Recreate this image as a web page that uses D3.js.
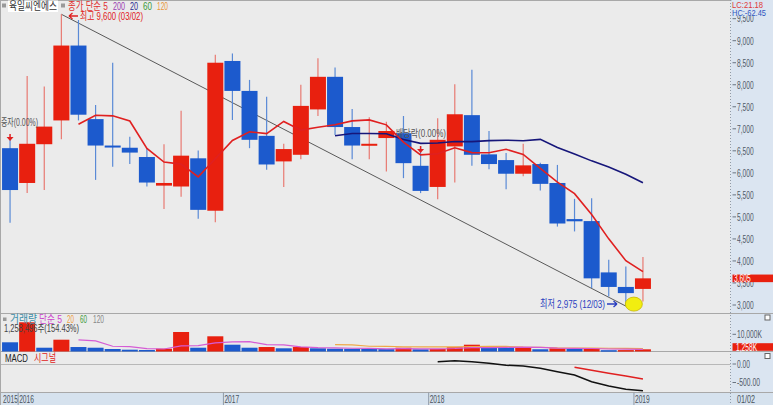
<!DOCTYPE html>
<html><head><meta charset="utf-8">
<script src="https://cdn.jsdelivr.net/npm/d3@7"></script>
<style>html,body{margin:0;padding:0;background:#ebebeb;overflow:hidden}svg{display:block}text{font-family:"Liberation Sans Narrow","Liberation Sans","Noto Sans CJK KR",sans-serif}</style>
</head><body><svg id="c" width="773" height="405"></svg>
<script>
const months = ["2015/12","2016/01","2016/02","2016/03","2016/04","2016/05","2016/06","2016/07","2016/08","2016/09","2016/10","2016/11","2016/12",
"2017/01","2017/02","2017/03","2017/04","2017/05","2017/06","2017/07","2017/08","2017/09","2017/10","2017/11","2017/12",
"2018/01","2018/02","2018/03","2018/04","2018/05","2018/06","2018/07","2018/08","2018/09","2018/10","2018/11","2018/12","2019/01"];
const opens  = [6560,5770,6650,7190,8890,7220,6620,6570,6360,5710,5690,6330,5140,8540,7860,6840,6260,6410,7440,8180,7040,6620,6790,6900,6160,5680,6600,7310,6420,6290,5980,6200,5770,4950,4905,3740,3410,3365];
const highs  = [6750,8200,7960,9600,9470,7540,8500,6820,6560,6650,7410,6510,8680,8710,8110,7730,6660,8000,8600,8390,7450,7260,7160,7290,6600,7240,8010,8340,6950,6450,6660,6230,6180,5410,5425,4025,3875,4090];
const lows   = [4870,5540,5610,6760,7190,5840,6140,6200,5690,5180,5460,4960,4880,7200,6560,6070,5680,6310,7290,6860,6310,6310,6030,5880,5540,5400,5780,6160,6080,5630,5920,5600,4780,4670,3385,3195,2975,3080];
const closes = [5610,6660,7050,8890,7320,6620,6600,6460,5780,5770,6390,5160,8500,7860,6750,6190,6540,7520,8180,7040,6620,6660,6950,6220,5590,6750,7330,6410,6200,5980,6170,5750,4850,4900,3605,3410,3270,3605];
const ma5  = [null,null,null,null,7105,7306,7294,7176,6555,6245,6198,5910,6319,6734,6931,6891,7167,6970,7035,7093,7179,7203,7090,6697,6408,6434,6569,6460,6457,6534,6417,6101,5790,5528,5053,4502,4006,3757];
const ma20 = [null,null,null,null,null,null,null,null,null,null,null,null,null,null,null,null,null,null,null,6843,6894,6894,6889,6755,6669,6676,6712,6710,6731,6741,6730,6760,6577,6429,6272,6133,5970,5774];
const volumes = [5350,17000,2200,6860,2600,2200,1450,1050,870,1630,11340,2200,8840,3950,2200,2600,1860,2600,1860,1630,1550,1450,1400,2200,1280,1450,2440,3950,2200,2100,2300,1300,1860,1450,1860,760,815,1258];
const volMa5  = [null,null,null,null,6802,6172,3062,2832,1634,1440,3268,3418,4976,5592,5706,3958,3890,2642,2224,2110,1900,1818,1578,1646,1576,1556,1754,2264,2264,2428,2598,2370,1952,1802,1754,1446,1349,1229];
const volMa20 = [null,null,null,null,null,null,null,null,null,null,null,null,null,null,null,null,null,null,null,4015,3825,3047,3007,2774,2708,2671,2720,2865,2932,2955,2503,2458,2109,1984,1967,1875,1823,1756];
const macd   = [null,null,null,null,null,null,null,null,null,null,null,null,null,null,null,null,null,null,null,null,null,null,null,null,null,62,89,62,19,-35,-54,-116,-208,-297,-478,-595,-684,-722];
const signal = [null,null,null,null,null,null,null,null,null,null,null,null,null,null,null,null,null,null,null,null,null,null,null,null,null,null,null,null,null,null,null,null,null,-89,-168,-247,-326,-405];
const priceTicks = [3000,3500,4000,4500,5000,5500,6000,6500,7000,7500,8000,8500,9000,9500];
const volTicks = [10000];
const macdTicks = [0,-500];
const yearTicks = [{m:"2015/12",t:"2015"},{m:"2016/01",t:"2016"},{m:"2017/01",t:"2017"},{m:"2018/01",t:"2018"},{m:"2019/01",t:"2019"}];
const lastPrice = 3605, lastVol = 1258;

const RED="#e8200f", BLUE="#1c5acd", REDW="#e87a72", BLUEW="#5a8ad6";
const svg = d3.select("#c");
const AX = 730.5;
const x = d3.scaleBand().domain(months).range([1.5, 651.5]).paddingInner(0.064).paddingOuter(0.032);
const cx = m => x(m) + x.bandwidth()/2;
const y = d3.scaleLinear().domain([3000, 9000]).range([305, 40.7]);
const yv = d3.scaleLinear().domain([0, 10000]).range([351.5, 334.3]);
const ym = d3.scaleLinear().domain([-500, 0]).range([382.5, 364]);

const cw = {",":1.8,".":1.8,"-":2.6,"K":4.6,"/":2.2};
const tw = s => [...s].reduce((a,ch)=>a+(cw[ch]!==undefined?cw[ch]:3.7),0);
function T(g, xx, yy, s, size, fill, w){
  const t = g.append("text").attr("x",xx).attr("y",yy).attr("font-size",size).attr("fill",fill).text(s);
  if(w) t.attr("textLength",w).attr("lengthAdjust","spacingAndGlyphs");
  return t;
}

svg.append("rect").attr("width",773).attr("height",405).attr("fill","#ebebeb");
svg.append("rect").attr("x",AX).attr("y",0).attr("width",773-AX).attr("height",392).attr("fill","#dbe5f1");
svg.append("rect").attr("x",0).attr("y",392.5).attr("width",773).attr("height",12.5).attr("fill","#d6e2ee");
const sep = svg.append("g").attr("stroke","#a8a8a8").attr("stroke-width",1);
[0.5,313.5,351.5,392.5].forEach(v=>sep.append("line").attr("x1",0).attr("x2",773).attr("y1",v).attr("y2",v));
sep.append("line").attr("x1",0).attr("x2",AX).attr("y1",364.5).attr("y2",364.5).attr("stroke","#b8b8b8");
sep.append("line").attr("x1",0.5).attr("x2",0.5).attr("y1",0).attr("y2",405);
svg.append("line").attr("x1",AX).attr("x2",AX).attr("y1",0).attr("y2",405).attr("stroke","#8f9aa8").attr("stroke-dasharray","1,2");

// trend line
svg.append("line").attr("x1",cx(months[3])).attr("y1",y(9600)).attr("x2",cx(months[36])).attr("y2",y(2975)).attr("stroke","#333").attr("stroke-width",0.8);

// candles
const cg = svg.append("g");
months.forEach((m,i)=>{
  const up = closes[i] >= opens[i];
  cg.append("line").attr("x1",cx(m)).attr("x2",cx(m)).attr("y1",y(highs[i])).attr("y2",y(lows[i])).attr("stroke",up?REDW:BLUEW).attr("stroke-width",1.2);
  const t = y(Math.max(opens[i],closes[i])), b = y(Math.min(opens[i],closes[i]));
  cg.append("rect").attr("x",x(m)).attr("y",t).attr("width",x.bandwidth()).attr("height",Math.max(2,b-t)).attr("fill",up?RED:BLUE);
});
const line = (ys, arr) => d3.line().defined(d=>d!=null).x((d,i)=>cx(months[i])).y(d=>ys(d))(arr);
svg.append("path").attr("d",line(y,ma20)).attr("fill","none").attr("stroke","#16167a").attr("stroke-width",1.6);
svg.append("path").attr("d",line(y,ma5)).attr("fill","none").attr("stroke","#e02020").attr("stroke-width",1.6);

// volume
months.forEach((m,i)=>{
  const up = i===0 ? false : volumes[i] > volumes[i-1];
  svg.append("rect").attr("x",x(m)).attr("y",yv(volumes[i])).attr("width",x.bandwidth()).attr("height",Math.max(1.5,yv(0)-yv(volumes[i]))).attr("fill",up?RED:BLUE);
});
svg.append("path").attr("d",line(yv,volMa20)).attr("fill","none").attr("stroke","#f0a848").attr("stroke-width",1.2);
svg.append("path").attr("d",line(yv,volMa5)).attr("fill","none").attr("stroke","#d55cd5").attr("stroke-width",1.2);

// macd
svg.append("path").attr("d",line(ym,macd)).attr("fill","none").attr("stroke","#111").attr("stroke-width",1.5);
svg.append("path").attr("d",line(ym,signal)).attr("fill","none").attr("stroke","#e02020").attr("stroke-width",1.5);

// right axis
const ra = svg.append("g");
function tick(yy, s){
  ra.append("line").attr("x1",AX+2).attr("x2",AX+5.5).attr("y1",yy).attr("y2",yy).attr("stroke","#6a7480");
  T(ra, AX+6.5, yy+3.8, s, 10.5, "#505a66", tw(s));
}
priceTicks.forEach(v=>tick(y(v), d3.format(",")(v)));
volTicks.forEach(v=>tick(yv(v), d3.format(",")(v)+"K"));
macdTicks.forEach(v=>tick(ym(v), d3.format(",.2f")(v).replace("−","-")));
svg.append("rect").attr("x",AX+2).attr("y",y(lastPrice)-3.8).attr("width",773-AX-2).attr("height",7.6).attr("fill",RED);
T(svg, AX+3.5, y(lastPrice)+3.8, d3.format(",")(lastPrice), 10.5, "#fff", tw("3,605"));
const vb = 347;
svg.append("rect").attr("x",AX+2).attr("y",vb-3.8).attr("width",773-AX-2).attr("height",7.6).attr("fill",RED);
T(svg, AX+5.5, vb+3.8, d3.format(",")(lastVol)+"K", 10.5, "#fff", tw("1,258K"));
svg.append("rect").attr("x",AX+1).attr("y",0).attr("width",773-AX-1).attr("height",15.5).attr("fill","#dbe5f1");
T(svg, AX+1.5, 7.5, "LC:21.18", 9.5, "#e03a3a", 31);
T(svg, AX+1.5, 15.5, "HC:-62.45", 9.5, "#2f55c0", 34);
[[765,315],[765,353.5]].forEach(p=>{
  svg.append("rect").attr("x",p[0]).attr("y",p[1]).attr("width",5).attr("height",5).attr("fill","#fff").attr("stroke","#666").attr("stroke-width",1);
});

// bottom axis
const ba = svg.append("g");
yearTicks.forEach((d,i)=>{
  const xx = x(d.m) - (i===0?0:1);
  if(i>0) ba.append("line").attr("x1",xx).attr("x2",xx).attr("y1",392.5).attr("y2",405).attr("stroke","#8f9aa8");
  T(ba, xx+1, 402.8, d.t, 10.5, "#4a5460", tw(d.t));
});
T(ba, 737, 402.8, "01/02", 10.5, "#4a5460", 18);

// legends
const lg = svg.append("g");
lg.append("rect").attr("x",2).attr("y",3.5).attr("width",4).attr("height",4).attr("fill","#999");
lg.append("rect").attr("x",8).attr("y",0.5).attr("width",50).attr("height",11.5).attr("fill","#fff");
T(lg, 9, 10, "육일씨엔에스", 11, "#333", 48);
lg.append("rect").attr("x",61).attr("y",3.5).attr("width",4).attr("height",4).attr("fill","#999");
T(lg, 68, 10, "종가 단순 5", 11, "#e03030", 40);
T(lg, 113, 10, "200", 11, "#9a3cb0", 12);
T(lg, 130, 10, "20", 11, "#2a2a90", 8);
T(lg, 143, 10, "60", 11, "#3a9a3a", 9);
T(lg, 157, 10, "120", 11, "#e8963c", 11);

const vl = svg.append("g");
vl.append("rect").attr("x",3).attr("y",317.5).attr("width",3.5).attr("height",3.5).attr("fill","#999");
T(vl, 10, 323, "거래량", 11, "#3a8fa8", 27);
T(vl, 39, 323, "단순 5", 11, "#cc44cc", 23);
T(vl, 67, 323, "20", 11, "#eea040", 7);
T(vl, 80, 323, "60", 11, "#3a9a3a", 7);
T(vl, 93, 323, "120", 11, "#888", 11);
T(vl, 4, 332, "1,258,496주(154.43%)", 10.5, "#444", 75);

T(svg, 5, 362, "MACD", 11, "#222", 23);
T(svg, 34, 362, "시그널", 11, "#e02020", 22);

// annotations
T(svg, 80, 19.5, "최고 9,600 (03/02)", 11, "#e02020", 63);
svg.append("path").attr("d","M69,16 L78,16 M69,16 L72.5,13 M69,16 L72.5,19").attr("stroke","#e02020").attr("stroke-width",1.3).attr("fill","none");
T(svg, 540, 307.5, "최저 2,975 (12/03)", 11, "#2a3ec0", 65);
svg.append("path").attr("d","M607,304 L617,304 M617,304 L613.5,301 M617,304 L613.5,307").attr("stroke","#2a3ec0").attr("stroke-width",1.3).attr("fill","none");
svg.append("ellipse").attr("cx",cx(months[36])+8).attr("cy",y(2975)-2).attr("rx",8.5).attr("ry",7).attr("fill","#f2ee10").attr("stroke","#c8b800").attr("stroke-width",0.8);

// event markers
function ev(m, yy, label, tx, ty, w){
  const c = cx(m);
  svg.append("path").attr("d",`M${c},${yy} L${c},${yy+3}`).attr("stroke","#e02020").attr("stroke-width",1.5);
  svg.append("path").attr("d",`M${c-3.5},${yy+3} L${c+3.5},${yy+3} L${c},${yy+7} Z`).attr("fill","#e02020");
  T(svg, tx, ty, label, 10.5, "#555", w);
}
ev(months[0], 134, "증자(0.00%)", 1, 126, 37);
ev(months[24], 146, "배당락(0.00%)", 396, 137, 50);
</script></body></html>
